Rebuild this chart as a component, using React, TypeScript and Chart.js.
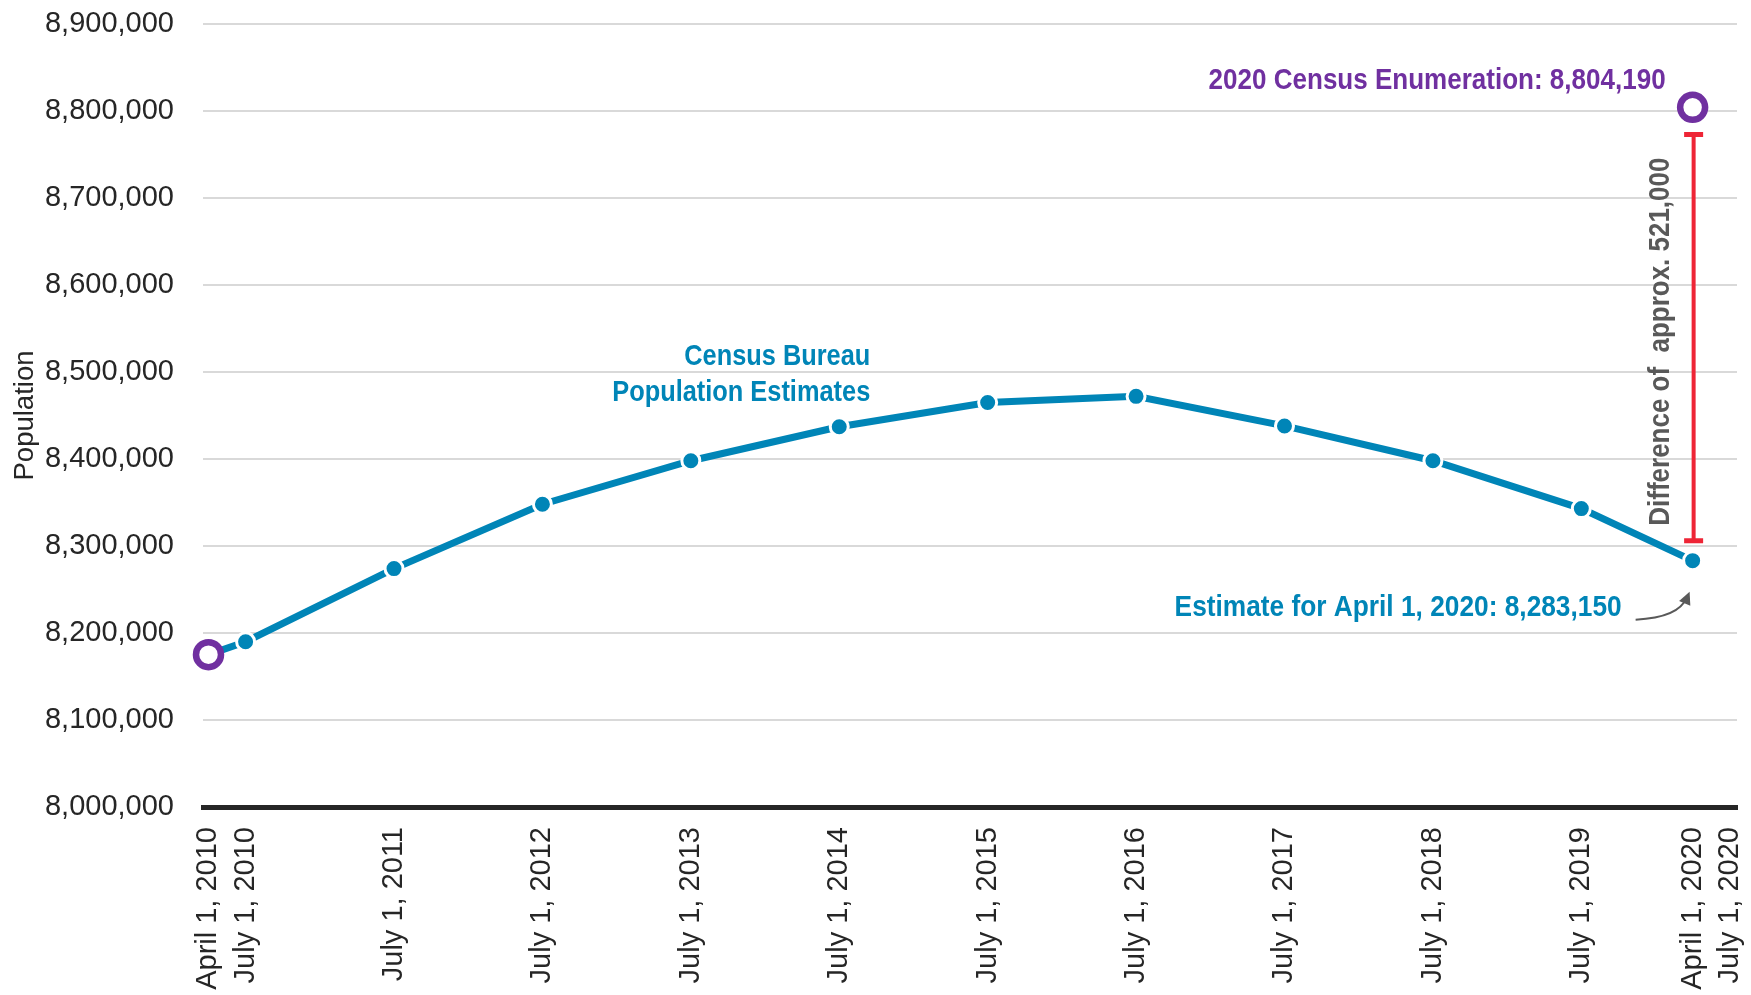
import React, { useEffect, useRef } from "react";
import { Chart, registerables } from "chart.js";

Chart.register(...registerables);

// ---- Data ----
const xTickValues = [2010.25, 2010.5, 2011.5, 2012.5, 2013.5, 2014.5, 2015.5, 2016.5, 2017.5, 2018.5, 2019.5, 2020.25, 2020.5];
const xTickLabels = [
  "April 1, 2010", "July 1, 2010", "July 1, 2011", "July 1, 2012", "July 1, 2013", "July 1, 2014",
  "July 1, 2015", "July 1, 2016", "July 1, 2017", "July 1, 2018", "July 1, 2019", "April 1, 2020", "July 1, 2020",
];
const estimateDates = [2010.25, 2010.5, 2011.5, 2012.5, 2013.5, 2014.5, 2015.5, 2016.5, 2017.5, 2018.5, 2019.5, 2020.25];
const estimateValues = [8175133, 8190000, 8274000, 8348000, 8398000, 8437000, 8465000, 8472000, 8438000, 8398000, 8343000, 8283150];
const censusDates = [2010.25, 2020.25];
const censusValues = [8175133, 8804190];
const differenceBar = [8306000, 8773000];
const yMin = 8000000;
const yMax = 8900000;
const yStep = 100000;

const BLUE = "#0085b7";
const PURPLE = "#7030a0";
const RED = "#ee2536";
const GREY = "#595959";
const DARK = "#262626";
const FONT = "'Liberation Sans', Arial, sans-serif";

function drawText(ctx: CanvasRenderingContext2D, text: string, x: number, y: number, align: CanvasTextAlign, maxWidth: number, color: string, size: number) {
  ctx.save();
  ctx.font = `bold ${size}px ${FONT}`;
  ctx.fillStyle = color;
  ctx.textAlign = align;
  ctx.textBaseline = "middle";
  ctx.fillText(text, x, y, maxWidth);
  ctx.restore();
}

const annotationPlugin = {
  id: "annotations",
  afterDatasetsDraw(chart: any) {
    const { ctx } = chart;
    const x = chart.scales.x;
    const y = chart.scales.y;

    // difference bar
    const bx = x.getPixelForValue(censusDates[1]) + 1;
    const by1 = y.getPixelForValue(differenceBar[1]);
    const by2 = y.getPixelForValue(differenceBar[0]);
    ctx.save();
    ctx.strokeStyle = RED;
    ctx.lineWidth = 4;
    ctx.beginPath();
    ctx.moveTo(bx, by1);
    ctx.lineTo(bx, by2);
    ctx.stroke();
    ctx.lineWidth = 5;
    ctx.beginPath();
    ctx.moveTo(bx - 9.5, by1);
    ctx.lineTo(bx + 9.5, by1);
    ctx.moveTo(bx - 9.5, by2);
    ctx.lineTo(bx + 9.5, by2);
    ctx.stroke();
    ctx.restore();

    // rotated difference text
    ctx.save();
    ctx.translate(bx - 33, (by1 + by2) / 2 + 4);
    ctx.rotate(-Math.PI / 2);
    drawText(ctx, "Difference of  approx. 521,000", 0, 0, "center", 368, GREY, 30);
    ctx.restore();

    // census 2020 label
    const cx = x.getPixelForValue(censusDates[1]);
    const cy = y.getPixelForValue(censusValues[1]);
    drawText(ctx, "2020 Census Enumeration: 8,804,190", cx - 27, cy - 27, "right", 457, PURPLE, 30);

    // estimate label
    const ex = x.getPixelForValue(estimateDates[estimateDates.length - 1]);
    const ey = y.getPixelForValue(estimateValues[estimateValues.length - 1]);
    drawText(ctx, "Estimate for April 1, 2020: 8,283,150", ex - 71, ey + 47, "right", 447, BLUE, 30);

    // arrow
    const sx = ex - 57, sy = ey + 59;
    const tx = ex - 3, ty = ey + 31;
    const qx = ex - 14, qy = ey + 57;
    ctx.save();
    ctx.strokeStyle = GREY;
    ctx.fillStyle = GREY;
    ctx.lineWidth = 2;
    ctx.beginPath();
    ctx.moveTo(sx, sy);
    ctx.quadraticCurveTo(qx, qy, tx - 3, ty + 6);
    ctx.stroke();
    const ang = Math.atan2(ty - qy, tx - qx);
    ctx.beginPath();
    ctx.moveTo(tx, ty);
    ctx.lineTo(tx - 14 * Math.cos(ang - 0.45), ty - 14 * Math.sin(ang - 0.45));
    ctx.lineTo(tx - 14 * Math.cos(ang + 0.45), ty - 14 * Math.sin(ang + 0.45));
    ctx.closePath();
    ctx.fill();
    ctx.restore();

    // series label
    const lx = x.getPixelForValue(2014.5) + 31;
    const ly = y.getPixelForValue(8500000);
    drawText(ctx, "Census Bureau", lx, ly - 15, "right", 186, BLUE, 30);
    drawText(ctx, "Population Estimates", lx, ly + 21, "right", 258, BLUE, 30);
  },
};

export default function App() {
  const canvasRef = useRef<HTMLCanvasElement | null>(null);

  useEffect(() => {
    if (!canvasRef.current) return;
    Chart.defaults.font.family = FONT;
    const chart = new Chart(canvasRef.current, {
      type: "line",
      data: {
        datasets: [
          {
            label: "Census",
            data: censusDates.map((d, i) => ({ x: d, y: censusValues[i] })),
            showLine: false,
            clip: false,
            pointRadius: 12.5,
            pointBorderWidth: 6.5,
            pointBorderColor: PURPLE,
            pointBackgroundColor: "#ffffff",
            borderColor: PURPLE,
          },
          {
            label: "Estimates",
            data: estimateDates.map((d, i) => ({ x: d, y: estimateValues[i] })),
            clip: false,
            borderColor: BLUE,
            borderWidth: 7,
            tension: 0,
            pointRadius: estimateDates.map((_, i) => (i === 0 ? 0 : 9)),
            pointBackgroundColor: BLUE,
            pointBorderColor: "#ffffff",
            pointBorderWidth: 3,
          },
        ],
      },
      options: {
        responsive: false,
        devicePixelRatio: 1,
        animation: false,
        layout: { autoPadding: false, padding: { top: 24, right: 14, bottom: 0, left: 0 } },
        plugins: { legend: { display: false }, tooltip: { enabled: false } },
        scales: {
          x: {
            type: "linear",
            min: 2010.213,
            max: 2020.549,
            afterBuildTicks: (axis: any) => {
              axis.ticks = xTickValues.map((v) => ({ value: v }));
            },
            afterFit: (axis: any) => {
              axis.height = 188;
              axis.paddingLeft = 0;
              axis.paddingRight = 0;
            },
            grid: { display: true, color: "rgba(0,0,0,0)", drawTicks: false },
            border: { display: true, color: DARK, width: 5 },
            ticks: {
              autoSkip: false,
              minRotation: 90,
              maxRotation: 90,
              padding: 20,
              color: DARK,
              font: { size: 29 },
              callback: (_v: any, i: number) => xTickLabels[i],
            },
          },
          y: {
            min: yMin,
            max: yMax,
            afterFit: (axis: any) => {
              axis.width = 203;
              axis.paddingTop = 0;
              axis.paddingBottom = 0;
            },
            grid: { color: "#d9d9d9", lineWidth: 2, drawTicks: false },
            border: { display: false },
            ticks: {
              stepSize: yStep,
              padding: 29,
              color: DARK,
              font: { size: 29 },
              callback: (v: any) => Number(v).toLocaleString("en-US"),
            },
            title: {
              display: true,
              text: "Population",
              color: DARK,
              font: { size: 27.5 },
              padding: { top: 9, bottom: 0 },
            },
          },
        },
      },
      plugins: [annotationPlugin],
    } as any);
    return () => chart.destroy();
  }, []);

  return (
    <div style={{ position: "fixed", left: 0, top: 0, width: 1751, height: 995, background: "#ffffff" }}>
      <canvas ref={canvasRef} width={1751} height={995} style={{ display: "block", width: 1751, height: 995 }} />
    </div>
  );
}
